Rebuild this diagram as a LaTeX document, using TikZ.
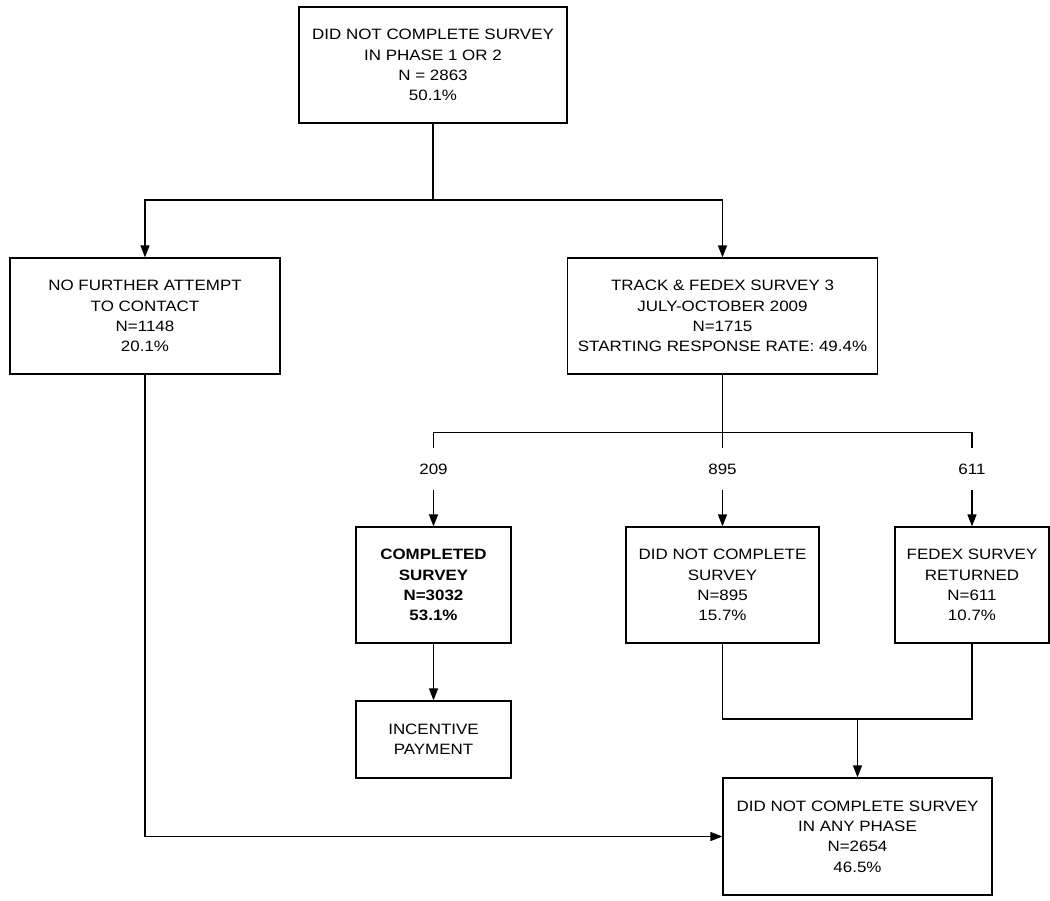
\documentclass[tikz,border=0pt]{standalone}
\usepackage{fontspec}
\setmainfont[FakeStretch=1.13]{Liberation Sans}
\usepackage{tikz}
\usetikzlibrary{arrows.meta}

\begin{document}
\begin{tikzpicture}[x=1pt, y=-1pt,
	box/.style={draw, line width=1.2pt, rectangle, align=center, inner sep=2pt,
		font=\fontsize{15}{20.3}\selectfont},
	count/.style={align=center, inner sep=0pt, minimum height=41pt,
		font=\fontsize{15}{20.3}\selectfont},
	arr/.style={line width=1.2pt, -{Triangle[length=12pt, width=9pt]}},
	link/.style={line width=1.2pt}]
	\useasboundingbox (0,0) rectangle (1050,900);

	% Top box
	\node (top) at (433,65) [box, minimum width=268pt, minimum height=116pt]
		{DID NOT COMPLETE SURVEY\\IN PHASE 1 OR 2\\N = 2863\\50.1\%};

	% Second row
	\node (nofurther) at (145,316) [box, minimum width=270pt, minimum height=116pt]
		{NO FURTHER ATTEMPT\\TO CONTACT\\N=1148\\20.1\%};
	\node (track) at (722.5,316) [box, minimum width=310pt, minimum height=116pt]
		{TRACK \& FEDEX SURVEY 3\\JULY-OCTOBER 2009\\N=1715\\STARTING RESPONSE RATE: 49.4\%};

	% Counts
	\node (n209) at (433.5,469) [count] {209};
	\node (n895) at (722.5,469) [count] {895};
	\node (n611) at (972,469) [count] {611};

	% Third row
	\node (completed) at (433.5,585) [box, minimum width=155pt, minimum height=116pt]
		{\textbf{COMPLETED}\\\textbf{SURVEY}\\\textbf{N=3032}\\\textbf{53.1\%}};
	\node (notcomp) at (722.5,585) [box, minimum width=193pt, minimum height=116pt]
		{DID NOT COMPLETE\\SURVEY\\N=895\\15.7\%};
	\node (fedex) at (972,585) [box, minimum width=154pt, minimum height=116pt]
		{FEDEX SURVEY\\RETURNED\\N=611\\10.7\%};

	% Bottom boxes
	\node (incentive) at (433.5,739.5) [box, minimum width=155pt, minimum height=77pt]
		{INCENTIVE\\PAYMENT};
	\node (final) at (857.5,836.5) [box, minimum width=269pt, minimum height=117pt]
		{DID NOT COMPLETE SURVEY\\IN ANY PHASE\\N=2654\\46.5\%};

	% Split below top box
	\coordinate (split1) at (433,200);
	\draw[link] (top.south) -- (split1);
	\draw[arr] (split1) -| (nofurther.north);
	\draw[arr] (split1) -| (track.north);

	% Split below track box
	\draw[link] (track.south) -- (n895.north);
	\draw[link] (n209.north) -- ++(0,-16) -| (n611.north);
	\draw[arr] (n209) -- (completed);
	\draw[arr] (n895) -- (notcomp);
	\draw[arr] (n611) -- (fedex);

	% Incentive
	\draw[arr] (completed) -- (incentive);

	% Merge into final box
	\coordinate (merge) at (857.5,719);
	\draw[link] (notcomp.south) |- (merge) -| (fedex.south);
	\draw[arr] (merge) -- (final.north);
	\draw[arr] (nofurther.south) |- (final.west);

\end{tikzpicture}
\end{document}
